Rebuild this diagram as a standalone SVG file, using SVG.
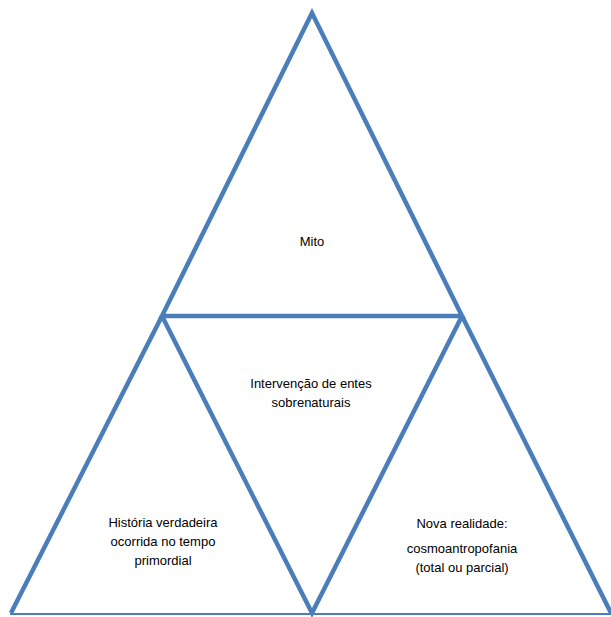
<svg xmlns="http://www.w3.org/2000/svg" width="611" height="617" viewBox="0 0 611 617">
<style>
.edge{fill:none;stroke:#4A7EBB;stroke-width:4.5;stroke-linejoin:miter;stroke-linecap:butt}
.base{fill:none;stroke:#4A7EBB;stroke-width:2}
.lbl{font-family:"Liberation Sans",Arial,sans-serif;font-size:13px;fill:#000;text-anchor:middle}
</style>
<rect width="611" height="617" fill="#fff"/>
<g id="connectors">
<polygon class="edge" points="312,13 162,316 462,316"/>
<polyline class="edge" points="162,316 11,613"/>
<polyline class="edge" points="162,316 312,613 462,316"/>
<polyline class="edge" points="462,316 611,613"/>
<line class="base" x1="10" y1="614" x2="611" y2="614"/>
</g>
<g id="mito"><text class="lbl" x="312" y="246">Mito</text></g>
<g id="intervencao"><text class="lbl" x="311" y="388">Intervenção de entes</text><text class="lbl" x="311" y="407">sobrenaturais</text></g>
<g id="historia"><text class="lbl" x="163" y="527">História verdadeira</text><text class="lbl" x="163" y="546">ocorrida no tempo</text><text class="lbl" x="163" y="565">primordial</text></g>
<g id="nova"><text class="lbl" x="462" y="528">Nova realidade:</text><text class="lbl" x="462" y="553">cosmoantropofania</text><text class="lbl" x="462" y="572">(total ou parcial)</text></g>
</svg>
